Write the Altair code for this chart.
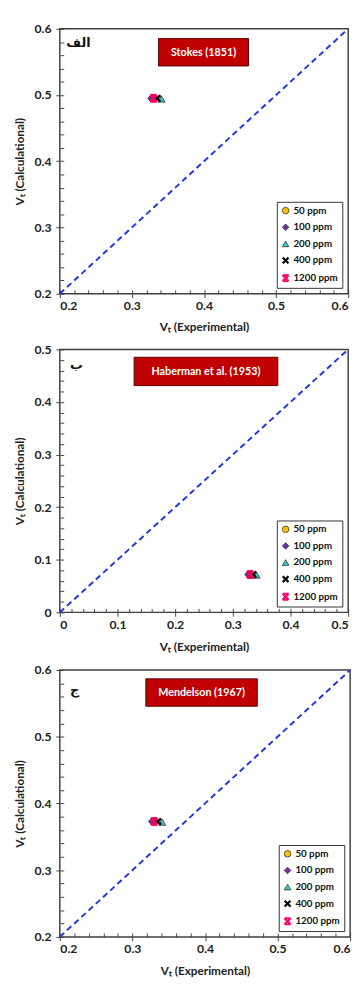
import altair as alt
import pandas as pd
import numpy as np

# ---------------- data ----------------
series = ["50 ppm", "100 ppm", "200 ppm", "400 ppm", "1200 ppm"]

exp_stokes = [0.329, 0.327, 0.341, 0.335, 0.330]
calc_stokes = [0.495, 0.495, 0.494, 0.495, 0.495]

exp_haberman = [0.329, 0.327, 0.341, 0.335, 0.330]
calc_haberman = [0.072, 0.072, 0.071, 0.072, 0.072]

exp_mendelson = [0.329, 0.327, 0.341, 0.335, 0.330]
calc_mendelson = [0.373, 0.373, 0.372, 0.373, 0.373]

panel_titles = ["Stokes (1851)", "Haberman et al. (1953)", "Mendelson (1967)"]
panel_letters = ["الف", "ب", "ج"]
panel_domains = [[0.2, 0.6], [0.0, 0.5], [0.2, 0.6]]
major_ticks = [
    [0.2, 0.3, 0.4, 0.5, 0.6],
    [0.0, 0.1, 0.2, 0.3, 0.4, 0.5],
    [0.2, 0.3, 0.4, 0.5, 0.6],
]
exps = [exp_stokes, exp_haberman, exp_mendelson]
calcs = [calc_stokes, calc_haberman, calc_mendelson]

# ---------------- styles ----------------
FONT = "Lato"
fill_colors = ["#FFC000", "#7030A0", "#33CCCC", "#000000", "#FF0066"]
stroke_colors = ["#333333", "#333333", "#333333", "#000000", "#FF0066"]
X_PATH = ("M-1,-0.65L-0.65,-1L0,-0.35L0.65,-1L1,-0.65L0.35,0L1,0.65L0.65,1L0,0.35"
          "L-0.65,1L-1,0.65L-0.35,0Z")
X_BAR_PATH = X_PATH + " M-0.8,-1.1H0.8V-0.8H-0.8Z M-0.8,0.8H0.8V1.1H-0.8Z"
shapes = ["circle", "diamond", "triangle-up", X_PATH, X_BAR_PATH]

widths = [295, 295, 297]
heights = [271, 269, 273]
x_title_pad = [10, 12, 11]
box_px = [(101, 193, 10, 38), (76, 223, 8, 37), (88, 202, 9, 37)]
letter_px = [(19, 15), (17, 16), (15, 20)]


def fmt_expr():
    return "datum.value == 0 ? '0' : format(datum.value, '.1f')"


def panel(i):
    lo, hi = panel_domains[i]
    w, h = widths[i], heights[i]
    df = pd.DataFrame({"series": series, "exp": exps[i], "calc": calcs[i]})
    line_df = pd.DataFrame({"a": [lo, hi]})
    minor = [float(v) for v in np.round(np.arange(lo, hi + 1e-9, 0.02), 2)]

    xs = alt.Scale(domain=[lo, hi], nice=False, zero=False)
    ys = alt.Scale(domain=[lo, hi], nice=False, zero=False)
    leg = alt.Legend(title=None, orient="bottom-right")

    points = alt.Chart(df).mark_point(filled=True, size=55, strokeWidth=0.8, opacity=1).encode(
        x=alt.X("exp:Q", scale=xs,
                axis=alt.Axis(values=major_ticks[i], labelExpr=fmt_expr(), title="Vₜ (Experimental)",
                              tickSize=4, domain=False, grid=False, orient="bottom",
                              labelPadding=2, titlePadding=x_title_pad[i])),
        y=alt.Y("calc:Q", scale=ys,
                axis=alt.Axis(values=major_ticks[i], labelExpr=fmt_expr(), title="Vₜ (Calculational)",
                              tickSize=4, domain=False, grid=False, orient="left",
                              labelPadding=5, titlePadding=8)),
        fill=alt.Fill("series:N", sort=series, scale=alt.Scale(domain=series, range=fill_colors), legend=leg),
        stroke=alt.Stroke("series:N", sort=series, scale=alt.Scale(domain=series, range=stroke_colors), legend=leg),
        shape=alt.Shape("series:N", sort=series, scale=alt.Scale(domain=series, range=shapes), legend=leg),
        order=alt.Order("idx:Q"),
    ).transform_calculate(idx="indexof(%s, datum.series)" % str(series))

    diag = alt.Chart(line_df).mark_line(color="#2335E8", strokeDash=[6, 4], strokeWidth=2, clip=True).encode(
        x=alt.X("a:Q", scale=xs,
                axis=alt.Axis(values=minor, labels=False, title=None, tickSize=4, offset=-4,
                              domain=False, grid=False, orient="bottom")),
        y=alt.Y("a:Q", scale=ys,
                axis=alt.Axis(values=minor, labels=False, title=None, tickSize=4, offset=-4,
                              domain=False, grid=False, orient="left")),
    )

    one = pd.DataFrame({"t": [panel_titles[i]], "l": [panel_letters[i]]})
    bx0, bx1, by0, by1 = box_px[i]
    box = alt.Chart(one).mark_rect(fill="#C00000", stroke="#5A0000", strokeWidth=1).encode(
        x=alt.value(bx0), x2=alt.value(bx1), y=alt.value(by0), y2=alt.value(by1))
    box_text = alt.Chart(one).mark_text(color="white", font=FONT, fontWeight="bold", fontSize=11,
                                        align="center", baseline="middle").encode(
        text="t:N", x=alt.value((bx0 + bx1) / 2), y=alt.value((by0 + by1) / 2 + 0.5))
    lx, ly = letter_px[i]
    letter = alt.Chart(one).mark_text(color="#111", font="DejaVu Sans", fontWeight="bold", fontSize=13,
                                      align="center", baseline="middle").encode(
        text="l:N", x=alt.value(lx), y=alt.value(ly))

    return alt.layer(diag, points, box, box_text, letter).resolve_axis(
        x="independent", y="independent").properties(width=w, height=h)


chart = alt.vconcat(panel(0), panel(1), panel(2), spacing=9).resolve_scale(
    fill="independent", stroke="independent", shape="independent"
).resolve_legend(
    fill="independent", stroke="independent", shape="independent"
).properties(
    padding={"left": 4, "top": 3, "right": 4, "bottom": 0}
).configure_view(
    stroke="#404040", strokeWidth=1.5
).configure_axis(
    labelFont=FONT, labelFontWeight="bold", labelFontSize=12.5, labelColor="#222",
    titleFont=FONT, titleFontWeight="bold", titleFontSize=12, titleColor="#222",
    tickColor="#444", tickWidth=1
).configure_legend(
    orient="bottom-right", offset=6, padding=4, strokeColor="#333", fillColor="white",
    labelFont=FONT, labelFontWeight="bold", labelFontSize=10, labelColor="#111",
    symbolSize=45, symbolStrokeWidth=0.8, rowPadding=7, labelOffset=3, cornerRadius=0
)

chart.save("out.html", embed_options={"renderer": "svg", "actions": False})
